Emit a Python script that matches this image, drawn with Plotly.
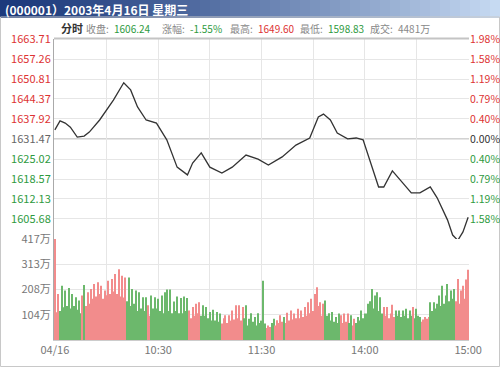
import plotly.graph_objects as go

# ---------------- data ----------------
TITLE = "(000001）2003年4月16日 星期三"
CLOSE = "1606.24"
CHANGE = "-1.55%"
HIGH = "1649.60"
LOW = "1598.83"
TURNOVER = "4481万"

BASE = 1631.47
PRICE_TICKS = [1605.68, 1612.13, 1618.57, 1625.02, 1631.47, 1637.92, 1644.37, 1650.81, 1657.26, 1663.71]
PCT_LABELS = ["1.58%", "1.19%", "0.79%", "0.40%", "0.00%", "0.40%", "0.79%", "1.19%", "1.58%", "1.98%"]
PRICE_MIN_Y = 1599.23

TIME_TICKS = [0, 30, 60, 90, 120, 150, 180, 210, 240]
TIME_LABELS = ["04/16", "", "10:30", "", "11:30", "", "14:00", "", "15:00"]

VOL_TICKS = [104, 208, 313, 417]
VOL_LABELS = ["104万", "208万", "313万", "417万"]

PRICE_MIN = [0, 3, 6, 9, 13, 17, 20, 26, 34, 40, 44, 48, 53, 59, 65, 71, 77, 80, 85, 90,
             97, 103, 111, 118, 124, 132, 140, 148, 153, 156, 160, 164, 170, 175, 179, 183,
             188, 191, 196, 202, 207, 212, 218, 222, 228, 231, 234, 237, 240]
PRICE = [1634.4, 1637.3, 1636.6, 1635.3, 1632.1, 1632.4, 1633.7, 1637.6, 1644.0, 1649.6,
         1647.3, 1641.8, 1637.6, 1636.6, 1631.2, 1622.4, 1619.9, 1623.7, 1627.0, 1622.4,
         1620.5, 1622.4, 1626.3, 1625.0, 1623.1, 1625.7, 1629.5, 1631.8, 1638.6, 1639.5,
         1637.6, 1633.4, 1631.5, 1631.8, 1631.2, 1624.7, 1616.0, 1616.0, 1621.2, 1617.3,
         1614.1, 1614.1, 1616.0, 1612.5, 1605.4, 1600.5, 1598.8, 1601.5, 1606.24]

VOLUME = [
    417, 115, 190, 120, 224, 135, 204, 140, 215, 130,
    190, 140, 177, 125, 163, 110, 184, 227, 140, 197,
    150, 211, 170, 231, 180, 238, 190, 224, 170, 204,
    185, 245, 190, 252, 200, 272, 190, 292, 180, 265,
    175, 258, 160, 258, 140, 211, 150, 204, 120, 197,
    130, 177, 120, 177, 143, 100, 184, 130, 177, 130,
    170, 120, 184, 110, 197, 208, 120, 208, 110, 159,
    120, 180, 110, 173, 110, 180, 120, 173, 122, 90,
    136, 100, 150, 110, 156, 100, 143, 100, 136, 90,
    116, 80, 125, 80, 116, 75, 109, 68, 90, 102,
    70, 102, 80, 122, 85, 143, 90, 143, 80, 136,
    90, 143, 60, 88, 110, 75, 95, 60, 110, 70,
    80, 245, 68, 50, 60, 54, 70, 88, 60, 82,
    70, 102, 75, 95, 70, 113, 80, 122, 85, 109,
    90, 129, 90, 122, 95, 136, 100, 156, 110, 170,
    120, 190, 218, 140, 156, 100, 150, 163, 100, 110,
    80, 116, 75, 95, 70, 109, 102, 70, 109, 75,
    109, 70, 102, 60, 88, 70, 95, 80, 122, 90,
    109, 109, 150, 160, 211, 130, 184, 197, 120, 177,
    109, 136, 100, 136, 90, 109, 146, 95, 122, 100,
    122, 95, 122, 100, 129, 90, 122, 100, 136, 90,
    129, 100, 95, 75, 85, 95, 88, 95, 156, 120,
    156, 130, 150, 184, 140, 224, 150, 184, 231, 160,
    204, 170, 211, 160, 252, 150, 204, 224, 170, 250, 290,
]
VOL_DIR = (
    "rrrggggggg" "ggggggrgrr" "rrrrrrrrrr" "rrrrrrrrrr" "rrgggggggg"
    "ggggrrgggg" "gggggggggg" "ggggggggrr" "rrrrrggggg" "gggggggrrr"
    "rrrrrrrrrr" "gggggggggg" "gggrrrggrr" "rrrgrrrrrr" "rrrrrrrrrr"
    "rrrrrrrggg" "ggggggrrrr" "rggrrggggg" "gggggggggg" "grrrrrrrgg"
    "ggggggggrg" "gggrrrrrgg" "gggggggggg" "gggrrrrrrrr"
)

# ---------------- style ----------------
W, H = 500, 367
RED = "#dd3333"
GREEN = "#2e9a3e"
GRAY = "#666666"
BAR_RED = "#f28c8c"
BAR_GREEN = "#6cb86c"
GRID = "#e6e6e6"
FONT = "SimSun, 'Noto Sans CJK SC', 'Noto Sans', sans-serif"

def fx(p):
    return p / W

def fy(p):
    return 1 - p / H

def span(t, c):
    return f"<span style='color:{c}'>{t}</span>"

left_text = []
right_text = []
for v, pl in zip(PRICE_TICKS, PCT_LABELS):
    if v > BASE + 0.01:
        c = RED
    elif v < BASE - 0.01:
        c = GREEN
    else:
        c = GRAY
    left_text.append(span(f"{v:.2f}", c))
    right_text.append(span(pl, c if c != GRAY else "#333333"))

bar_colors = [BAR_RED if d == "r" else BAR_GREEN for d in VOL_DIR]

fig = go.Figure()
fig.add_trace(go.Bar(x=list(range(len(VOLUME))), y=VOLUME, marker_color=bar_colors,
                     marker_line_width=0, xaxis="x2", yaxis="y2", hoverinfo="skip"))
fig.add_trace(go.Scatter(x=PRICE_MIN, y=PRICE, mode="lines",
                         line=dict(color="#333333", width=1.3), xaxis="x", yaxis="y"))
fig.add_trace(go.Scatter(x=PRICE_MIN, y=PRICE, mode="lines", opacity=0,
                         line=dict(width=0), xaxis="x", yaxis="y3", hoverinfo="skip"))

xdom = [fx(54), fx(469)]
xrange_ = [-0.5, 240.5]
common_x = dict(domain=xdom, range=xrange_, tickvals=TIME_TICKS, showgrid=True,
                gridcolor=GRID, gridwidth=1, zeroline=False, ticks="", automargin=False)

shapes = []
# title gradient bar
n = 50
c0 = (0x1c, 0x3a, 0x7c)
c1 = (0xc6, 0xda, 0xf2)
for i in range(n):
    t = (i / (n - 1)) ** 1.25
    col = "rgb(%d,%d,%d)" % tuple(int(a + (b - a) * t) for a, b in zip(c0, c1))
    shapes.append(dict(type="rect", xref="paper", yref="paper",
                       x0=fx(i * W / n), x1=fx((i + 1) * W / n + 0.6),
                       y0=fy(18), y1=fy(0), fillcolor=col, line=dict(width=0), layer="below"))
# outer border
shapes.append(dict(type="rect", xref="paper", yref="paper", x0=fx(0.5), x1=fx(499.5),
                   y0=fy(366.5), y1=fy(17), line=dict(color="#c8c8c8", width=1), layer="below"))
# top border of chart area
shapes.append(dict(type="line", xref="paper", yref="paper", x0=xdom[0], x1=xdom[1],
                   y0=fy(38.5), y1=fy(38.5), line=dict(color="#c4c4c4", width=2)))
# base (previous close) line
shapes.append(dict(type="line", xref="paper", yref="y", x0=xdom[0], x1=xdom[1],
                   y0=BASE, y1=BASE, line=dict(color="#d2d2d2", width=2), layer="below"))

annotations = [dict(text=f"<b>{TITLE}</b>", xref="paper", yref="paper", x=fx(3), y=fy(9),
                    xanchor="left", yanchor="middle", showarrow=False,
                    font=dict(family=FONT, size=12, color="white"))]
# header row: (label, value, value x position, value colour)
header = [("收盘:", CLOSE, 112, GREEN), ("涨幅:", CHANGE, 188, GREEN),
          ("最高:", HIGH, 256, RED), ("最低:", LOW, 326, GREEN), ("成交:", TURNOVER, 396, "#888888")]
annotations.append(dict(text="<b>分时</b>", xref="paper", yref="paper", x=fx(59), y=fy(28),
                        xanchor="left", yanchor="middle", showarrow=False,
                        font=dict(family=FONT, size=11, color="#333333")))
for lab, val, x, c in header:
    annotations.append(dict(text=lab, xref="paper", yref="paper", x=fx(x - 1), y=fy(28),
                            xanchor="right", yanchor="middle", showarrow=False,
                            font=dict(family=FONT, size=10, color="#888888")))
    annotations.append(dict(text=val, xref="paper", yref="paper", x=fx(x), y=fy(28),
                            xanchor="left", yanchor="middle", showarrow=False,
                            font=dict(family=FONT, size=10, color=c)))

fig.update_layout(
    width=W, height=H, margin=dict(l=0, r=0, t=0, b=0),
    paper_bgcolor="white", plot_bgcolor="white", showlegend=False,
    bargap=0.4,
    font=dict(family=FONT, size=11, color=GRAY),
    xaxis=dict(**common_x, anchor="y", showticklabels=False),
    xaxis2=dict(**common_x, anchor="y2", matches="x", ticktext=TIME_LABELS,
                tickfont=dict(size=11, color="#777777"), showline=True, linecolor="#cccccc"),
    yaxis=dict(domain=[fy(239), fy(39)], range=[PRICE_MIN_Y, PRICE_TICKS[-1]],
               tickvals=PRICE_TICKS, ticktext=left_text, showgrid=True, gridcolor=GRID,
               zeroline=False, showline=True, linecolor="#aaaaaa", ticks="", anchor="x",
               automargin=False),
    yaxis3=dict(overlaying="y", side="right", anchor="x", range=[PRICE_MIN_Y, PRICE_TICKS[-1]],
                tickvals=PRICE_TICKS, ticktext=right_text, showgrid=False, zeroline=False,
                ticks="", automargin=False, tickfont=dict(size=10.5)),
    yaxis2=dict(domain=[fy(340), fy(239)], range=[0, 417], tickvals=VOL_TICKS,
                ticktext=VOL_LABELS, showgrid=True, gridcolor=GRID, zeroline=False,
                showline=True, linecolor="#aaaaaa", ticks="", anchor="x2",
                tickfont=dict(color="#777777"), automargin=False),
    shapes=shapes, annotations=annotations,
)

fig.write_html("out.html", config={"displayModeBar": False},
               post_script="document.body.style.margin='0';")
